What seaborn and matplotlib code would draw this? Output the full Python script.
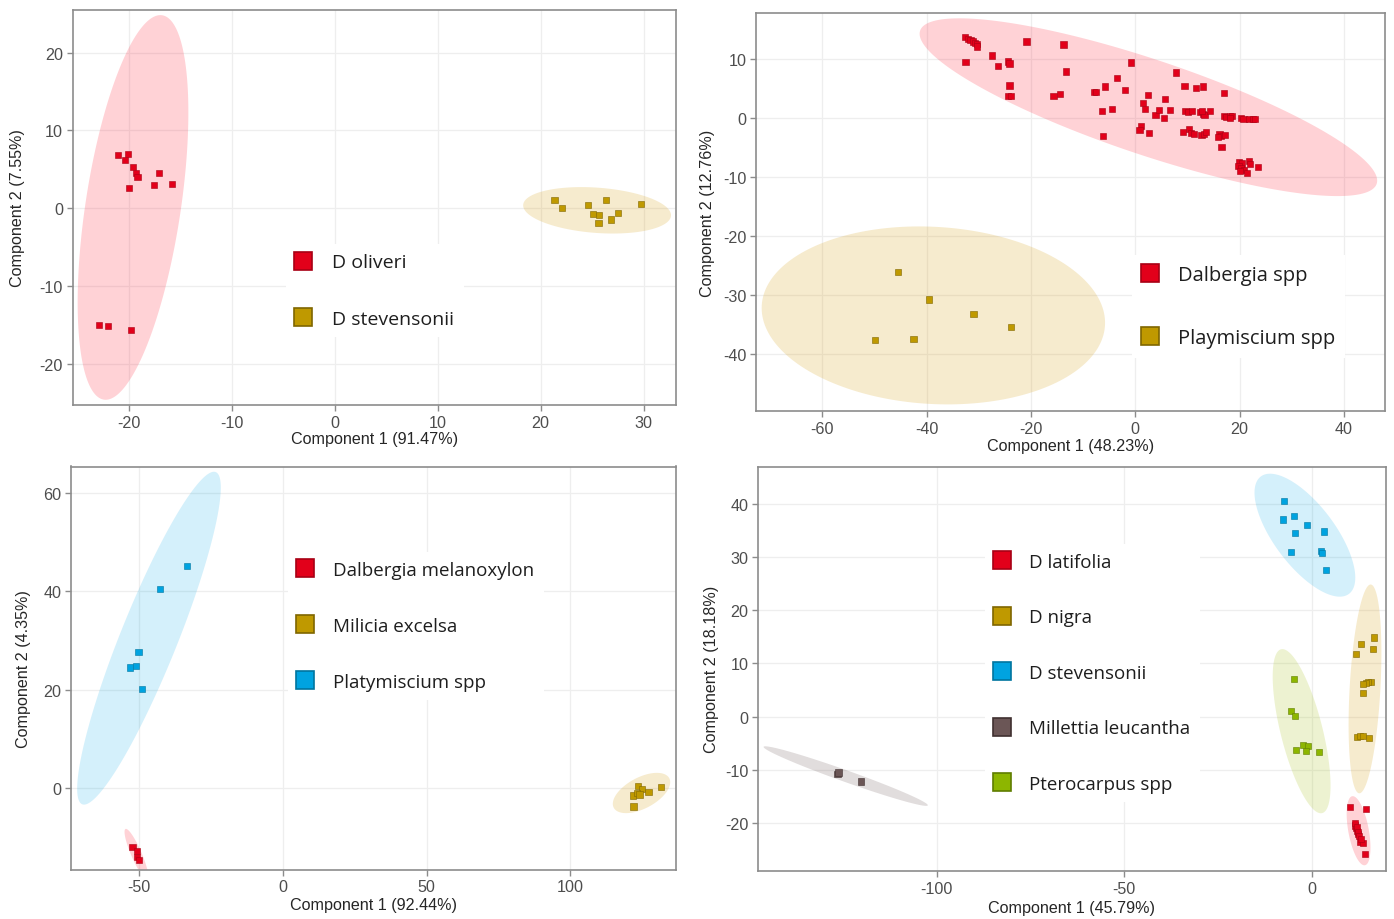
import numpy as np
import pandas as pd
import matplotlib
matplotlib.use("Agg")
import matplotlib.pyplot as plt
import seaborn as sns
from matplotlib.lines import Line2D

sns.set_theme(style="whitegrid")
plt.rcParams['font.family'] = ['Liberation Sans', 'DejaVu Sans']

# ---------------- data ----------------
# Panel A (top-left)
a_labels = ["D oliveri", "D stevensonii"]
a_oliveri_x = [-21.0, -20.06, -20.36, -19.61, -19.32, -19.13, -17.06, -20.0, -17.54, -15.79, -22.85, -21.97, -19.77]
a_oliveri_y = [6.85, 7.02, 6.17, 5.31, 4.58, 4.07, 4.50, 2.61, 2.96, 3.13, -15.03, -15.12, -15.59]
a_stev_x = [21.36, 22.08, 24.58, 26.36, 29.74, 25.10, 25.68, 27.53, 26.82, 25.62]
a_stev_y = [1.03, 0.0, 0.38, 1.11, 0.51, -0.77, -0.85, -0.64, -1.45, -1.88]

# Panel B (top-right)
b_labels = ["Dalbergia spp", "Playmiscium spp"]
b_dalb_x = [-32.68, -32.13, -31.57, -31.09, -30.70, -30.38, -30.30, -32.52, -27.51, -26.32,
            -24.41, -24.10, -24.10, -24.33, -23.78, -20.83, -13.76, -13.20, -15.67, -14.47,
            -7.95, -7.55, -5.73, -3.50, -1.99, -0.87, -6.36, -4.53, -6.12, 1.51,
            1.83, 2.47, 3.90, 4.61, 5.49, 5.65, 6.68, 1.03, 0.80, 2.62,
            7.87, 9.46, 11.61, 12.96, 17.02, 9.62, 10.10, 10.82, 12.49, 12.96,
            13.28, 14.31, 12.80, 16.94, 17.50, 18.13, 18.53, 18.21, 20.28, 20.76,
            21.87, 22.50, 22.98, 9.15, 10.26, 10.74, 11.29, 12.72, 13.12, 13.60,
            16.14, 16.38, 15.83, 17.26, 16.54, 19.88, 20.52, 21.87, 21.95, 19.80,
            20.28, 20.91, 21.39, 23.46, 20.04]
b_dalb_y = [13.77, 13.48, 13.26, 13.03, 12.80, 12.58, 12.18, 9.58, 10.65, 8.90,
            9.63, 9.29, 5.55, 3.80, 3.80, 13.03, 12.52, 7.93, 3.80, 4.08,
            4.42, 4.42, 5.38, 6.86, 4.82, 9.46, 1.30, 1.59, -3.00, 2.66,
            1.64, 3.91, 0.51, 1.36, 0.00, 3.23, 1.36, -1.36, -2.04, -2.44,
            7.76, 5.50, 5.16, 5.38, 4.31, 1.30, 1.13, 1.25, 1.02, 0.74,
            0.57, 1.30, 1.30, 0.45, 0.28, 0.34, 0.45, 0.06, 0.00, -0.11,
            -0.11, -0.06, -0.17, -2.27, -1.81, -2.49, -2.72, -2.78, -2.66, -2.38,
            -2.61, -2.95, -3.23, -2.83, -4.82, -7.48, -7.65, -7.20, -7.76, -8.05,
            -8.50, -8.73, -9.29, -8.22, -8.90]
b_play_x = [-45.5, -39.5, -31.0, -23.8, -49.9, -42.5]
b_play_y = [-26.1, -30.7, -33.2, -35.4, -37.6, -37.4]

# Panel C (bottom-left)
c_labels = ["Dalbergia melanoxylon", "Milicia excelsa", "Platymiscium spp"]
c_mel_x = [-52.3, -50.7, -50.7, -50.1]
c_mel_y = [-12.1, -12.9, -14.1, -14.7]
c_mil_x = [123.5, 125.0, 121.8, 123.2, 124.1, 127.2, 131.6, 122.0]
c_mil_y = [0.47, -0.2, -1.56, -1.08, -1.36, -0.87, 0.14, -3.8]
c_pla_x = [-33.4, -42.7, -50.2, -53.1, -51.0, -49.0]
c_pla_y = [45.1, 40.5, 27.7, 24.5, 24.8, 20.2]

# Panel D (bottom-right)
d_labels = ["D latifolia", "D nigra", "D stevensonii", "Millettia leucantha", "Pterocarpus spp"]
d_lat_x = [10.22, 14.49, 11.47, 11.82, 12.09, 12.44, 12.89, 13.78, 14.22, 11.6, 12.0, 12.3, 12.7, 13.2]
d_lat_y = [-17.02, -17.33, -20.46, -20.96, -21.46, -22.09, -23.47, -23.72, -25.78, -20.0, -20.8, -21.6, -22.4, -23.0]
d_nig_x = [16.71, 13.07, 16.44, 11.91, 15.91, 15.11, 14.49, 13.78, 13.6, 12.18, 12.89, 13.6, 15.29]
d_nig_y = [14.89, 13.58, 12.77, 11.83, 6.57, 6.45, 6.32, 6.07, 4.44, -3.75, -3.69, -3.69, -4.0]
d_ste_x = [-7.29, -7.64, -4.62, -1.16, -4.44, 3.38, -5.42, 2.49, 2.84, 3.82]
d_ste_y = [40.55, 37.05, 37.73, 35.98, 34.54, 34.79, 30.97, 31.1, 30.72, 27.53]
d_mil_x = [-126.5, -126.2, -120.2]
d_mil_y = [-10.8, -10.5, -12.2]
d_pte_x = [-4.62, -5.51, -4.44, -2.22, -0.89, -1.6, -4.18, 2.04]
d_pte_y = [7.13, 1.0, 0.19, -5.26, -5.57, -6.38, -6.26, -6.7]

# ---------------- styles ----------------
RED, GOLD, BLUE, BROWN, GREEN = "#E2001A", "#BF9900", "#00A3E0", "#6B5656", "#8DB600"
EDGE = {RED: "#A80014", GOLD: "#7F6600", BLUE: "#00759F", BROWN: "#3F3030", GREEN: "#5F7D00"}
FILL = {RED: ("#FF3347", 0.22), GOLD: ("#D9A520", 0.22), BLUE: ("#00A8E8", 0.17),
        BROWN: ("#6B5555", 0.20), GREEN: ("#A6C21A", 0.20)}

W, H = 1394, 920
fig = plt.figure(figsize=(W / 100, H / 100), dpi=100)


def make_ax(l, r, t, b):
    return fig.add_axes([l / W, 1 - b / H, (r - l) / W, (b - t) / H])


def ellipse_xy(x, y, level=0.95, npts=200):
    x = np.asarray(x, float); y = np.asarray(y, float)
    n = len(x)
    d = n - 1
    radius = np.sqrt(d * ((1 - level) ** (-2.0 / d) - 1))  # sqrt(2 * qf(level, 2, n-1))
    cov = np.cov(x, y)
    vals, vecs = np.linalg.eigh(cov)
    th = np.linspace(0, 2 * np.pi, npts)
    circ = np.vstack([np.cos(th), np.sin(th)])
    pts = vecs @ (np.sqrt(np.maximum(vals, 0))[:, None] * circ) * radius
    return x.mean() + pts[0], y.mean() + pts[1]


def draw_panel(ax, groups, labels, colors, xlim, ylim, xticks, yticks, xlabel, ylabel, xlab_y, ylab_x):
    frames = []
    for (gx, gy), lab in zip(groups, labels):
        frames.append(pd.DataFrame({"x": gx, "y": gy, "group": lab}))
    df = pd.concat(frames, ignore_index=True)
    for (gx, gy), c in zip(groups, colors):
        ex, ey = ellipse_xy(gx, gy)
        fc, al = FILL[c]
        ax.fill(ex, ey, color=fc, alpha=al, lw=0, zorder=1)
    pal = dict(zip(labels, colors))
    sns.scatterplot(data=df, x="x", y="y", hue="group", palette=pal, marker="s", s=20,
                    linewidth=0.4, edgecolor=[EDGE[pal[g]] for g in df["group"]],
                    legend=False, ax=ax, zorder=3)
    ax.set_xlim(*xlim); ax.set_ylim(*ylim)
    ax.set_xticks(xticks); ax.set_yticks(yticks)
    ax.set_xticklabels([str(v) for v in xticks]); ax.set_yticklabels([str(v) for v in yticks])
    ax.grid(True, color="#EEEEEE", linewidth=0.9)
    ax.set_axisbelow(True)
    for s in ax.spines.values():
        s.set_visible(True); s.set_color("#8C8C8C"); s.set_linewidth(1.2)
    ax.tick_params(axis="both", bottom=True, left=True, length=4, width=1, color="#8C8C8C",
                   labelcolor="#4D4D4D", labelsize=11.6, pad=3)
    ax.set_xlabel(xlabel, fontsize=11.6, color="#262626")
    ax.set_ylabel(ylabel, fontsize=11.6, color="#262626")
    ax.xaxis.label.set_va("center"); ax.yaxis.label.set_va("center")
    ax.xaxis.set_label_coords(0.5, xlab_y)
    ax.yaxis.set_label_coords(ylab_x, 0.5)


def add_legend(ax, labels, colors, sq_x, y_first, spacing, fs, gap):
    bb = ax.get_position()
    fs_px = fs * 100 / 72
    handles = [Line2D([], [], marker="s", linestyle="none", markersize=12.5,
                      markerfacecolor=c, markeredgecolor=EDGE[c], markeredgewidth=1.2) for c in colors]
    n = len(labels)
    yc = y_first + spacing * (n - 1) / 2
    borderpad, hl = 0.5, 0.8
    box_left = sq_x - (borderpad + hl / 2) * fs_px
    fx = (box_left - bb.x0 * W) / (bb.width * W)
    fy = (H * (1 - bb.y0) - yc) / (bb.height * H)
    leg = ax.legend(handles, labels, loc="center left", bbox_to_anchor=(fx, fy),
                    borderaxespad=0.0,
                    frameon=True, facecolor="white", edgecolor="none", framealpha=1,
                    fancybox=False, borderpad=borderpad, handlelength=hl,
                    handletextpad=(gap - hl / 2 * fs_px) / fs_px,
                    labelspacing=spacing / fs_px - 0.96,
                    prop={"family": ["Open Sans", "DejaVu Sans"], "size": fs})
    for t in leg.get_texts():
        t.set_color("#1E1E1E")
    leg.set_zorder(10)


# Panel A
axA = make_ax(72.8, 676, 11, 406)
draw_panel(axA, [(a_oliveri_x, a_oliveri_y), (a_stev_x, a_stev_y)], a_labels, [RED, GOLD],
           (-25.42, 33.15), (-25.27, 25.48), [-20, -10, 0, 10, 20, 30], [-20, -10, 0, 10, 20],
           "Component 1 (91.47%)", "Component 2 (7.55%)", -0.086, -0.0925)
add_legend(axA, a_labels, [RED, GOLD], 303, 263, 57, 14, 29)

# Panel B
axB = make_ax(756, 1384.6, 14.3, 412)
draw_panel(axB, [(b_dalb_x, b_dalb_y), (b_play_x, b_play_y)], b_labels, [RED, GOLD],
           (-72.7, 47.8), (-49.6, 17.8), [-60, -40, -20, 0, 20, 40], [-40, -30, -20, -10, 0, 10],
           "Component 1 (48.23%)", "Component 2 (12.76%)", -0.088, -0.0764)
add_legend(axB, b_labels, [RED, GOLD], 1150, 276, 63, 14.5, 28)

# Panel C
axC = make_ax(71, 676, 467.5, 870.5)
draw_panel(axC, [(c_mel_x, c_mel_y), (c_mil_x, c_mil_y), (c_pla_x, c_pla_y)], c_labels, [RED, GOLD, BLUE],
           (-73.7, 136.8), (-16.6, 65.4), [-50, 0, 50, 100], [0, 20, 40, 60],
           "Component 1 (92.44%)", "Component 2 (4.35%)", -0.088, -0.0777)
add_legend(axC, c_labels, [RED, GOLD, BLUE], 305, 571, 56, 13.5, 28)

# Panel D
axD = make_ax(758, 1385.5, 467.5, 872)
draw_panel(axD, [(d_lat_x, d_lat_y), (d_nig_x, d_nig_y), (d_ste_x, d_ste_y), (d_mil_x, d_mil_y), (d_pte_x, d_pte_y)],
           d_labels, [RED, GOLD, BLUE, BROWN, GREEN],
           (-147.7, 19.7), (-29.0, 47.0), [-100, -50, 0], [-20, -10, 0, 10, 20, 30, 40],
           "Component 1 (45.79%)", "Component 2 (18.18%)", -0.089, -0.0749)
add_legend(axD, d_labels, [RED, GOLD, BLUE, BROWN, GREEN], 1002, 563, 55.5, 13.5, 27)

fig.savefig("out.png", dpi=100)
